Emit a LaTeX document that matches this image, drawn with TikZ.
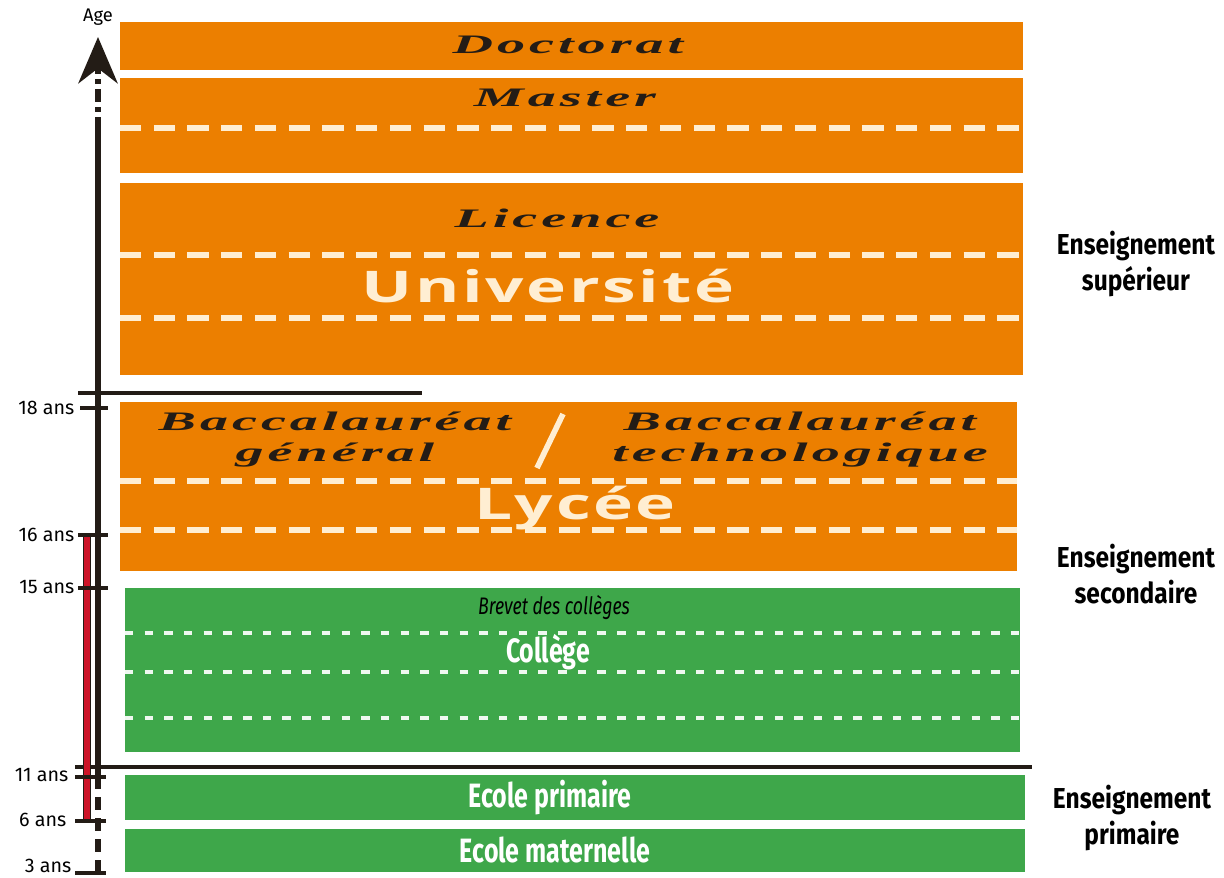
\documentclass[tikz,border=0pt]{standalone}
\usepackage{fontspec}
\setmainfont{Fira Sans}
\newfontfamily\narrowfont[FakeStretch=0.85]{Fira Sans}
\newfontfamily\tightfont[FakeStretch=0.74]{Fira Sans}
\newfontfamily\widefont[FakeStretch=2.1,LetterSpace=15]{Liberation Serif}
\newfontfamily\bigfont[FakeStretch=1.55,LetterSpace=6]{Open Sans}
\usetikzlibrary{arrows.meta,positioning}

\definecolor{uniorange}{RGB}{236,127,0}
\definecolor{schoolgreen}{RGB}{62,167,74}
\definecolor{creamline}{RGB}{255,238,210}
\definecolor{inkdark}{RGB}{35,28,22}
\definecolor{agered}{RGB}{205,20,40}

\tikzset{
  orangedash/.style={creamline, line width=3.6pt, dash pattern=on 15pt off 9pt},
  greendot/.style={white!92!schoolgreen, line width=3pt, dash pattern=on 6pt off 8pt},
  levelname/.style={font=\widefont\bfseries\itshape\fontsize{19}{22}\selectfont, text=inkdark, inner sep=0pt},
  schoolname/.style={font=\tightfont\bfseries\fontsize{24}{27}\selectfont, text=white, inner sep=0pt},
  bigname/.style={font=\bigfont\bfseries\fontsize{31}{34}\selectfont, text=creamline, inner sep=0pt},
  sectorname/.style={font=\narrowfont\bfseries\fontsize{20.5}{26}\selectfont, align=center, inner sep=0pt},
  agelabel/.style={font=\fontsize{14}{16}\selectfont, anchor=east, inner sep=1pt},
  tickmark/.style={line width=3pt, inkdark},
  axisline/.style={line width=3.6pt, inkdark},
}

\begin{document}
\begin{tikzpicture}[x=0.025cm, y=-0.025cm]
  \useasboundingbox (0,0) rectangle (1224,878);

  % enseignement superieur
  \fill[uniorange] (120,22) rectangle (1023,70);
  \fill[uniorange] (120,78) rectangle (1023,173);
  \fill[uniorange] (120,183) rectangle (1023,375);
  \draw[orangedash] (120,128) -- (1023,128);
  \draw[orangedash] (120,255) -- (1023,255);
  \draw[orangedash] (120,318) -- (1023,318);
  \node[levelname] (doctorat) at (568,45) {Doctorat};
  \node[levelname] (master) at (565,98) {Master};
  \node[levelname] (licence) at (557,218) {Licence};
  \node[bigname] (universite) at (548,286) {Université};

  % lycee
  \fill[uniorange] (120,402) rectangle (1017,571);
  \draw[orangedash] (120,481) -- (1017,481);
  \draw[orangedash] (120,530) -- (1017,530);
  \node[levelname, align=center] (bacgen) at (335,440) {Baccalauréat\\général};
  \node[levelname, align=center] (bactech) at (800,440) {Baccalauréat\\technologique};
  \coordinate (slash1) at (537,468);
  \coordinate (slash2) at (563,414);
  \draw[creamline, line width=4pt] (slash1) -- (slash2);
  \node[bigname] (lycee) at (575,508) {Lycée};

  % college
  \fill[schoolgreen] (125,588) rectangle (1020,752);
  \draw[greendot] (125,633) -- (1020,633);
  \draw[greendot] (125,672) -- (1020,672);
  \draw[greendot] (125,718) -- (1020,718);
  \node[font=\tightfont\itshape\fontsize{17}{19}\selectfont, inner sep=0pt] (brevet) at (554,608) {Brevet des collèges};
  \node[schoolname] (college) at (548,652) {Collège};

  % primaire
  \fill[schoolgreen] (125,775) rectangle (1025,820);
  \fill[schoolgreen] (125,829) rectangle (1025,872);
  \node[schoolname] (primaire) at (550,798) {Ecole primaire};
  \node[schoolname] (maternelle) at (555,850) {Ecole maternelle};

  % separations
  \draw[line width=3pt, inkdark] (78,393) -- (422,393);
  \draw[line width=3pt, inkdark] (75,767) -- (1032,767);

  % axe des ages
  \coordinate (a3) at (98,873);
  \coordinate (a11) at (98,776);
  \coordinate (amid) at (98,130);
  \coordinate (atop) at (98,37);
  \draw[axisline, dash pattern=on 9pt off 6pt] (a3) -- (a11);
  \draw[axisline] (a11) -- (amid);
  \draw[axisline, dash pattern=on 9pt off 4pt on 3pt off 4pt, -{Stealth[length=33pt,width=28pt]}] (amid) -- (atop);
  \node[font=\fontsize{13}{15}\selectfont, inner sep=0pt] (age) at (98,17) {Age};

  % obligation scolaire
  \coordinate (r16) at (87,536);
  \coordinate (r6) at (87,821);
  \draw[line width=6pt, inkdark] (r16) -- (r6);
  \draw[line width=3.6pt, agered] (r16) -- (r6);

  \node[agelabel] (l18) at (76,408) {18 ans};
  \node[agelabel] (l16) at (76,535) {16 ans};
  \node[agelabel] (l15) at (76,587) {15 ans};
  \node[agelabel] (l11) at (70,775) {11 ans};
  \node[agelabel] (l6) at (68,820) {6 ans};
  \node[agelabel] (l3) at (73,866) {3 ans};
  \draw[tickmark] (80,408) -- (108,408);
  \draw[tickmark] (78,535) -- (108,535);
  \draw[tickmark] (78,588) -- (108,588);
  \draw[tickmark] (75,777) -- (106,777);
  \draw[tickmark] (75,821) -- (106,821);
  \draw[tickmark] (75,873) -- (106,873);

  % secteurs
  \node[sectorname] (superieur) at (1136,264) {Enseignement\\supérieur};
  \node[sectorname] (secondaire) at (1136,574) {Enseignement\\secondaire};
  \node[sectorname] (primairesec) at (1132,818) {Enseignement\\primaire};
\end{tikzpicture}
\end{document}
